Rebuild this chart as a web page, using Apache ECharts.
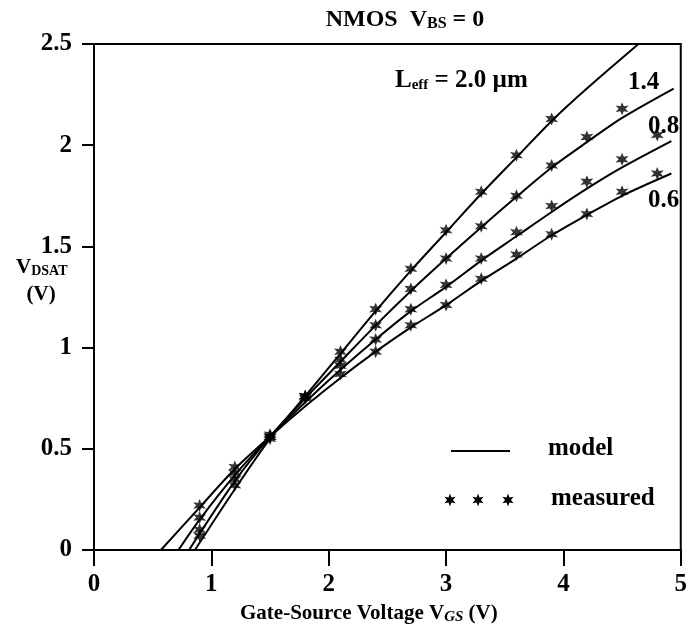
<!DOCTYPE html>
<html>
<head>
<meta charset="utf-8">
<script src="https://cdn.jsdelivr.net/npm/echarts@6/dist/echarts.min.js"></script>
<style>
  html, body { margin: 0; padding: 0; background: #fff; }
  #chart { width: 690px; height: 636px; }
</style>
</head>
<body>
<div id="chart"></div>
<script>
// Model curves (one per effective channel length)
const model20X = [0.86, 1.2, 1.5, 1.8, 2.1, 2.4, 2.7, 3.0, 3.3, 3.6, 3.9, 4.2, 4.64];
const model20Y = [0, 0.30, 0.55, 0.76, 0.97, 1.18, 1.38, 1.57, 1.76, 1.94, 2.12, 2.28, 2.5];
const model14X = [0.81, 1.2, 1.5, 1.8, 2.1, 2.4, 2.7, 3.0, 3.3, 3.6, 3.9, 4.2, 4.5, 4.94];
const model14Y = [0, 0.34, 0.56, 0.75, 0.93, 1.11, 1.28, 1.44, 1.595, 1.745, 1.89, 2.015, 2.135, 2.28];
const model08X = [0.72, 0.9, 1.2, 1.5, 1.8, 2.1, 2.4, 2.7, 3.0, 3.3, 3.6, 3.9, 4.2, 4.5, 4.92];
const model08Y = [0, 0.15, 0.37, 0.56, 0.73, 0.89, 1.04, 1.18, 1.30, 1.43, 1.55, 1.67, 1.785, 1.89, 2.02];
const model06X = [0.57, 0.9, 1.2, 1.5, 1.8, 2.1, 2.4, 2.7, 3.0, 3.3, 3.6, 3.9, 4.2, 4.5, 4.92];
const model06Y = [0, 0.21, 0.40, 0.56, 0.71, 0.85, 0.98, 1.10, 1.21, 1.33, 1.44, 1.555, 1.655, 1.75, 1.86];

// Measured points
const measX = [0.9, 1.2, 1.5, 1.8, 2.1, 2.4, 2.7, 3.0, 3.3, 3.6, 3.9, 4.2, 4.5, 4.8];
const meas20 = [0.07, 0.32, 0.55, 0.76, 0.98, 1.19, 1.39, 1.58, 1.77, 1.95, 2.13, null, null, null];
const meas14 = [0.10, 0.35, 0.56, 0.76, 0.94, 1.11, 1.29, 1.44, 1.60, 1.75, 1.90, 2.04, 2.18, null];
const meas08 = [0.16, 0.38, 0.56, 0.76, 0.91, 1.04, 1.19, 1.31, 1.44, 1.57, 1.70, 1.82, 1.93, 2.05];
const meas06 = [0.22, 0.41, 0.57, 0.75, 0.87, 0.98, 1.11, 1.21, 1.34, 1.46, 1.56, 1.66, 1.77, 1.86];

const xTicks = [0, 1, 2, 3, 4, 5];
const yTicks = [0, 0.5, 1, 1.5, 2, 2.5];

const FONT = '"Liberation Serif", "DejaVu Serif", serif';
const STAR = 'path://M10,0 L12.25,6.1 L18.66,5 L14.5,10 L18.66,15 L12.25,13.9 L10,20 L7.75,13.9 L1.34,15 L5.5,10 L1.34,5 L7.75,6.1 Z';

const zip = (xs, ys) => xs.map((x, i) => [x, ys[i]]).filter(p => p[1] !== null);

// six-pointed star outline for the legend glyphs
function starPoints(cx, cy, r) {
  const pts = [];
  for (let i = 0; i < 12; i++) {
    const a = (-90 + i * 30) * Math.PI / 180;
    const rr = i % 2 === 0 ? r : r * 0.45;
    pts.push([cx + rr * Math.cos(a), cy + rr * Math.sin(a)]);
  }
  return pts;
}

const modelSeries = [[model20X, model20Y], [model14X, model14Y], [model08X, model08Y], [model06X, model06Y]]
  .map(([xs, ys]) => ({
    name: 'model',
    type: 'line',
    data: zip(xs, ys),
    smooth: 0.3,
    symbol: 'none',
    lineStyle: { color: '#000', width: 2 },
    z: 2
  }));

const measSeries = [meas20, meas14, meas08, meas06].map(ys => ({
  name: 'measured',
  type: 'scatter',
  data: zip(measX, ys),
  symbol: STAR,
  symbolSize: 13,
  itemStyle: { color: '#000' },
  z: 3
}));

const chart = echarts.init(document.getElementById('chart'));

const option = {
  animation: false,
  backgroundColor: '#fff',
  title: {
    text: 'NMOS  V{sub|BS} = 0',
    left: 400,
    top: 2,
    textAlign: 'center',
    textStyle: {
      fontFamily: FONT, fontWeight: 'bold', fontSize: 24, color: '#000',
      rich: { sub: { fontFamily: FONT, fontWeight: 'bold', fontSize: 16, color: '#000', verticalAlign: 'bottom', padding: [9, 0, 0, 0] } }
    }
  },
  grid: {
    left: 94, right: 3, top: 44, bottom: 86,
    show: true, borderColor: '#000', borderWidth: 2
  },
  xAxis: {
    type: 'value',
    min: xTicks[0], max: xTicks[xTicks.length - 1], interval: 1,
    axisLine: { lineStyle: { color: '#000', width: 2 } },
    axisTick: { inside: false, length: 16, lineStyle: { color: '#000', width: 2 } },
    splitLine: { show: false },
    axisLabel: { margin: 22, fontFamily: FONT, fontWeight: 'bold', fontSize: 25, color: '#000' }
  },
  yAxis: {
    type: 'value',
    min: yTicks[0], max: yTicks[yTicks.length - 1], interval: 0.5,
    axisLine: { show: true, lineStyle: { color: '#000', width: 2 } },
    axisTick: { show: true, inside: false, length: 12, lineStyle: { color: '#000', width: 2 } },
    splitLine: { show: false },
    axisLabel: { margin: 22, fontFamily: FONT, fontWeight: 'bold', fontSize: 25, color: '#000' }
  },
  graphic: [
    { type: 'text', left: 16, top: 254, style: {
      text: 'V{sub|DSAT}\n  (V)', fill: '#000', font: 'bold 21px ' + FONT, lineHeight: 27,
      rich: { sub: { font: 'bold 14px ' + FONT, fill: '#000', padding: [8, 0, 0, 0] } }
    } },
    { type: 'text', left: 240, top: 603, style: {
      text: 'Gate-Source Voltage V{sub|GS} (V)', fill: '#000', font: 'bold 21px ' + FONT,
      rich: { sub: { font: 'italic bold 15px ' + FONT, fill: '#000', padding: [8, 0, 0, 0] } }
    } },
    { type: 'text', left: 395, top: 68, style: {
      text: 'L{sub|eff} = 2.0 \u00b5m', fill: '#000', font: 'bold 25px ' + FONT,
      rich: { sub: { font: 'bold 15px ' + FONT, fill: '#000', padding: [9, 0, 0, 0] } }
    } },
    { type: 'text', left: 628, top: 70, style: { text: '1.4', fill: '#000', font: 'bold 25px ' + FONT } },
    { type: 'text', left: 648, top: 114, style: { text: '0.8', fill: '#000', font: 'bold 25px ' + FONT } },
    { type: 'text', left: 648, top: 188, style: { text: '0.6', fill: '#000', font: 'bold 25px ' + FONT } },
    // legend
    { type: 'line', shape: { x1: 451, y1: 451, x2: 510, y2: 451 }, style: { stroke: '#000', lineWidth: 2 } },
    { type: 'text', left: 548, top: 436, style: { text: 'model', fill: '#000', font: 'bold 25px ' + FONT } },
    { type: 'polygon', shape: { points: starPoints(450, 500, 6.5) }, style: { fill: '#000' } },
    { type: 'polygon', shape: { points: starPoints(478, 500, 6.5) }, style: { fill: '#000' } },
    { type: 'polygon', shape: { points: starPoints(508, 500, 6.5) }, style: { fill: '#000' } },
    { type: 'text', left: 551, top: 486, style: { text: 'measured', fill: '#000', font: 'bold 25px ' + FONT } }
  ],
  series: [...modelSeries, ...measSeries]
};

chart.setOption(option);
</script>
</body>
</html>
